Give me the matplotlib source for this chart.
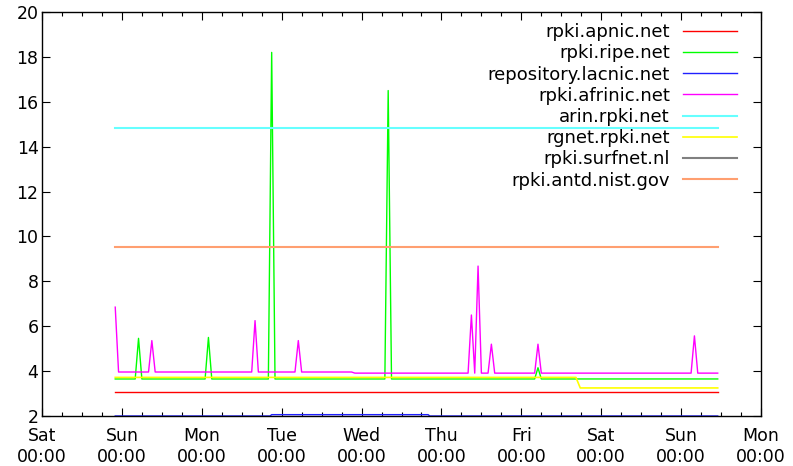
import numpy as np
import pandas as pd
import matplotlib
matplotlib.use('Agg')
import matplotlib.pyplot as plt
import matplotlib.dates as mdates

# hours since Sat 00:00
start = pd.Timestamp('2024-01-06 00:00')

apnic_t = [22, 203]
apnic_v = [3.06, 3.06]

ripe_t = [22, 28, 29, 30, 49, 50, 51, 68, 69, 70, 103, 104, 105, 148, 149, 150, 203]
ripe_v = [3.65, 3.65, 5.46, 3.65, 3.65, 5.5, 3.65, 3.65, 18.2, 3.65, 3.65, 16.5, 3.65, 3.65, 4.15, 3.65, 3.65]

lacnic_t = [22, 68.5, 69, 116, 116.5, 203]
lacnic_v = [2.0, 2.0, 2.06, 2.06, 2.0, 2.0]

afrinic_t = [22, 23, 32, 33, 34, 63, 64, 65, 76, 77, 78, 93, 94, 128, 129, 130, 131, 132,
             134, 135, 136, 148, 149, 150, 195, 196, 197, 203]
afrinic_v = [6.85, 3.96, 3.96, 5.36, 3.96, 3.96, 6.25, 3.96, 3.96, 5.36, 3.96, 3.96, 3.91, 3.91,
             6.5, 3.91, 8.68, 3.91, 3.91, 5.2, 3.91, 3.91, 5.2, 3.91, 3.91, 5.57, 3.91, 3.91]

arin_t = [22, 203]
arin_v = [14.83, 14.83]

rgnet_t = [22, 160.4, 161.7, 203]
rgnet_v = [3.72, 3.72, 3.25, 3.25]

surfnet_t = [22, 203]
surfnet_v = [1.0, 1.0]

nist_t = [22, 203]
nist_v = [9.53, 9.53]

series = [
    ('rpki.apnic.net', apnic_t, apnic_v, '#ff0000', 1.0),
    ('rpki.ripe.net', ripe_t, ripe_v, '#00ff00', 1.0),
    ('repository.lacnic.net', lacnic_t, lacnic_v, '#2020ff', 1.0),
    ('rpki.afrinic.net', afrinic_t, afrinic_v, '#ff00ff', 1.0),
    ('arin.rpki.net', arin_t, arin_v, '#66ffff', 1.5),
    ('rgnet.rpki.net', rgnet_t, rgnet_v, '#ffff00', 1.2),
    ('rpki.surfnet.nl', surfnet_t, surfnet_v, '#808080', 1.5),
    ('rpki.antd.nist.gov', nist_t, nist_v, '#ff9f70', 1.5),
]

fig = plt.figure(figsize=(7.93, 4.66), dpi=100)
ax = fig.add_axes([42 / 793, 50 / 466, (761 - 42) / 793, (416 - 12) / 466])

for name, t, v, c, lw in series:
    x = start + pd.to_timedelta(t, unit='h')
    ax.plot(x, v, color=c, lw=lw, label=name)

ax.set_xlim(start, start + pd.Timedelta(days=9))
ax.set_ylim(2, 20)
ax.set_yticks(np.arange(2, 21, 2))

ax.xaxis.set_major_locator(mdates.DayLocator())
ax.xaxis.set_major_formatter(mdates.DateFormatter('%a\n%H:%M'))
ax.xaxis.set_minor_locator(mdates.HourLocator(byhour=[6, 12, 18]))

ax.tick_params(which='both', direction='in', top=True, right=True, labelsize=12.5, color='black')
ax.tick_params(which='major', length=6, width=0.8)
ax.tick_params(which='minor', length=3, width=0.8)
ax.tick_params(axis='x', pad=8)
ax.tick_params(axis='y', pad=2.5)
for s in ax.spines.values():
    s.set_linewidth(1.0)

leg = ax.legend(loc='upper right', bbox_to_anchor=(737 / 793, 1 - 23 / 466),
                bbox_transform=fig.transFigure, frameon=False, markerfirst=False,
                fontsize=13, handlelength=3.0, handletextpad=0.72, labelspacing=0.18,
                borderaxespad=0, borderpad=0)

plt.savefig('out.png', dpi=100)
